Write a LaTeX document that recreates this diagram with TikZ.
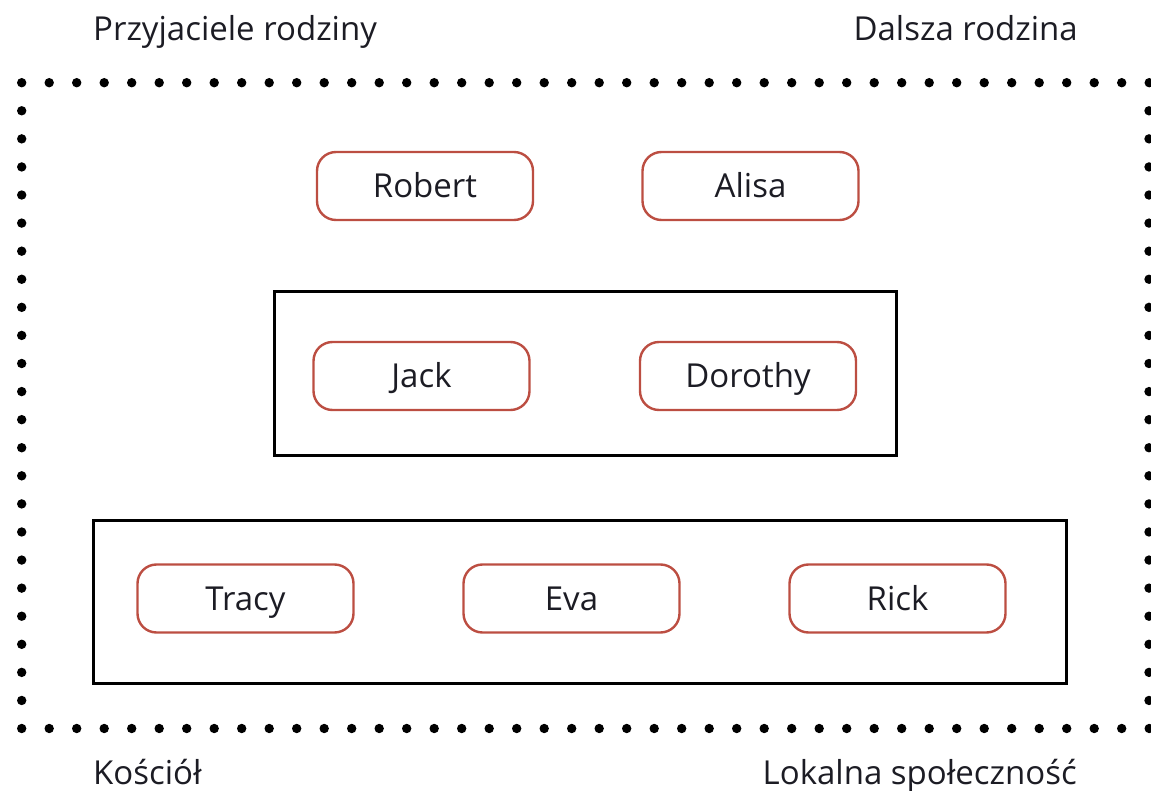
\documentclass[tikz,border=0pt]{standalone}
\usepackage{fontspec}
\setmainfont{Open Sans}
\definecolor{boxred}{RGB}{188,78,66}
\definecolor{ink}{RGB}{28,28,36}
\begin{document}
\begin{tikzpicture}[x=1pt,y=-1pt,
  person/.style={draw=boxred, line width=2.4pt, rounded corners=19pt,
    minimum width=216pt, minimum height=68pt, text=ink,
    text height=24pt, text depth=0pt,
    font=\fontsize{33}{38}\selectfont},
  caption/.style={text=ink, font=\fontsize{33}{38}\selectfont, inner sep=0pt},
  group/.style={draw=black, line width=3pt},
  dot/.style={fill=black}]
\useasboundingbox (0,0) rectangle (1151,791);

% corner captions, placed by their baselines
\node[caption, anchor=base west] (friends) at (93,41) {Przyjaciele rodziny};
\node[caption, anchor=base east] (family) at (1078,41) {Dalsza rodzina};
\node[caption, anchor=base west] (church) at (93,784) {Kościół};
\node[caption, anchor=base east] (local) at (1077,784) {Lokalna społeczność};

% dotted outer frame
\foreach \i in {0,...,41} {
  \fill[dot] ({21.7+\i*27.5},82.7) circle (4.7pt);
  \fill[dot] ({21.7+\i*27.5},728.5) circle (4.7pt);
}
\foreach \j in {1,...,22} {
  \fill[dot] (21.7,{82.7+\j*28.08}) circle (4.7pt);
  \fill[dot] (1149,{82.7+\j*28.08}) circle (4.7pt);
}

% group frames
\node[group, minimum width=622pt, minimum height=163pt, inner sep=0pt] (couple) at (585,373.5) {};
\node[group, minimum width=973pt, minimum height=163pt, inner sep=0pt] (children) at (579.5,601.5) {};

% people
\node[person] (robert) at (425,186) {Robert};
\node[person] (alisa) at (750.5,186) {Alisa};
\node[person] (jack) at (421.5,376) {Jack};
\node[person] (dorothy) at (748,376) {Dorothy};
\node[person] (tracy) at (245.5,598.5) {Tracy};
\node[person] (eva) at (571.5,598.5) {Eva};
\node[person] (rick) at (897.5,598.5) {Rick};
\end{tikzpicture}
\end{document}
